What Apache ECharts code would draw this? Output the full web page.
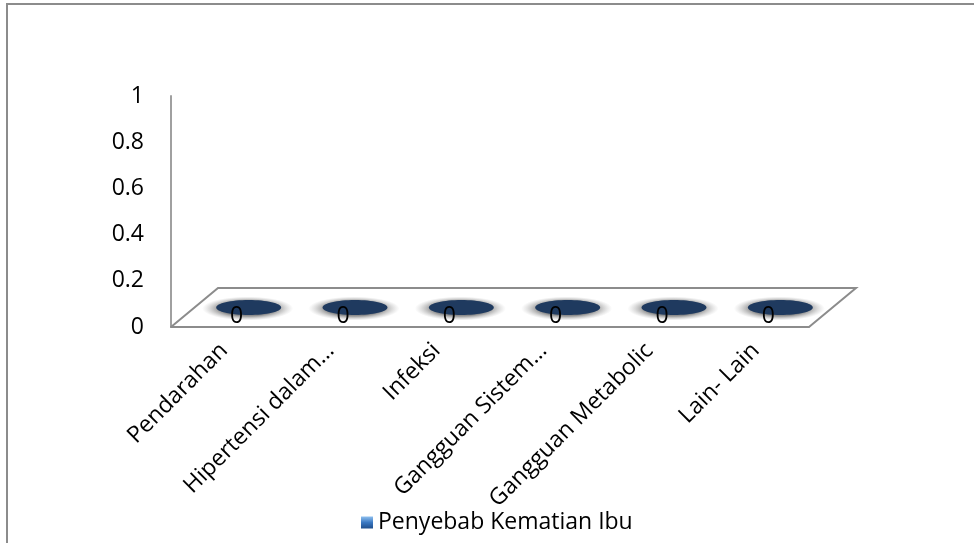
<!DOCTYPE html>
<html>
<head>
<meta charset="utf-8">
<script src="https://cdn.jsdelivr.net/npm/echarts@6/dist/echarts.min.js"></script>
<style>
html,body{margin:0;padding:0;background:#fff;overflow:hidden;}
#chart{width:974px;height:543px;position:absolute;left:0;top:0;}
#frame{position:absolute;left:6px;top:3px;width:1100px;height:700px;border:2px solid #8c8c8c;pointer-events:none;}
</style>
</head>
<body>
<div id="chart"></div>
<div id="frame"></div>
<script>
const categories = ['Pendarahan', 'Hipertensi dalam…', 'Infeksi', 'Gangguan Sistem…', 'Gangguan Metabolic', 'Lain- Lain'];
const seriesName = 'Penyebab Kematian Ibu';
const values = [0, 0, 0, 0, 0, 0];
const yTicks = [0, 0.2, 0.4, 0.6, 0.8, 1];

const FONT = 'Open Sans';
const FS = 23;
const DEPTH_X = 47, DEPTH_Y = -39;

const haloFill = new echarts.graphic.RadialGradient(0.5, 0.5, 0.5, [
  { offset: 0, color: 'rgba(95,95,95,0.9)' },
  { offset: 0.62, color: 'rgba(105,105,105,0.75)' },
  { offset: 1, color: 'rgba(170,170,170,0)' }
]);

const chart = echarts.init(document.getElementById('chart'));
chart.setOption({
  backgroundColor: '#fff',
  animation: false,
  textStyle: { fontFamily: FONT },
  grid: { left: 171, right: 165, top: 96, bottom: 216, containLabel: false },
  legend: {
    data: [{ name: seriesName, icon: 'rect' }],
    left: 356, top: 506,
    itemWidth: 12, itemHeight: 12, itemGap: 8,
    textStyle: { fontSize: FS, color: '#000', fontFamily: FONT },
    itemStyle: {
      color: new echarts.graphic.LinearGradient(0, 0, 0, 1, [
        { offset: 0, color: '#8fc0ef' }, { offset: 0.5, color: '#3a78c2' }, { offset: 1, color: '#1f4e8c' }
      ])
    }
  },
  xAxis: {
    type: 'category',
    data: categories,
    axisLine: { show: true, lineStyle: { color: '#8c8c8c', width: 2 } },
    axisTick: { show: false },
    axisLabel: { rotate: 45, fontSize: FS, color: '#000', margin: 20, interval: 0, fontFamily: FONT },
    splitLine: { show: false }
  },
  yAxis: {
    type: 'value',
    min: yTicks[0], max: yTicks[yTicks.length - 1], interval: 0.2,
    axisLine: { show: true, lineStyle: { color: '#a0a0a0', width: 2 } },
    axisTick: { show: false },
    splitLine: { show: false },
    axisLabel: { fontSize: FS, color: '#000', margin: 27, fontFamily: FONT }
  },
  series: [
    {
      type: 'custom',
      name: 'floor',
      silent: true,
      clip: false,
      data: [[0, 0]],
      renderItem: function (params, api) {
        const band = api.size([1, 0])[0];
        const p0 = api.coord([0, 0]);
        const p1 = api.coord([categories.length - 1, 0]);
        const x0 = p0[0] - band / 2, x1 = p1[0] + band / 2, y = p0[1];
        return {
          type: 'polyline',
          shape: { points: [[x0, y], [x0 + DEPTH_X, y + DEPTH_Y], [x1 + DEPTH_X, y + DEPTH_Y], [x1, y]] },
          style: { stroke: '#8c8c8c', lineWidth: 2, fill: null }
        };
      },
      z: 1
    },
    {
      type: 'custom',
      name: seriesName,
      clip: false,
      data: values.map((v, i) => [i, v]),
      itemStyle: { color: '#1f3a5f' },
      renderItem: function (params, api) {
        const p = api.coord([api.value(0), api.value(1)]);
        const cx = p[0] + DEPTH_X / 2 + 1, cy = p[1] + DEPTH_Y / 2;
        return {
          type: 'group',
          children: [
            {
              type: 'circle',
              x: cx - 1, y: cy + 1,
              scaleX: 3.8, scaleY: 1,
              shape: { cx: 0, cy: 0, r: 12 },
              style: { fill: haloFill }
            },
            {
              type: 'ellipse',
              shape: { cx: cx, cy: cy, rx: 32.5, ry: 7.5 },
              style: { fill: '#1f3a5f' }
            },
            {
              type: 'text',
              style: {
                text: String(api.value(1)),
                x: cx - 12, y: cy + 9,
                align: 'center', verticalAlign: 'middle',
                font: FS + 'px "' + FONT + '"', fill: '#000'
              }
            }
          ]
        };
      },
      z: 2
    }
  ]
});
</script>
</body>
</html>
